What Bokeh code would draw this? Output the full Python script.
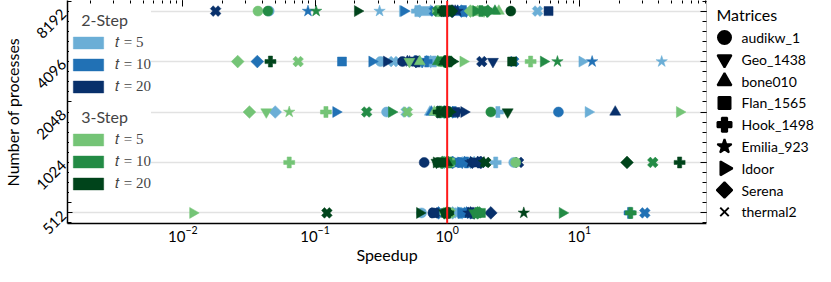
import math
from bokeh.plotting import figure
from bokeh.layouts import row
from bokeh.models import (Legend, LegendItem, LinearAxis, LogAxis, FixedTicker, LogTicker,
                          Span, ColumnDataSource, Range1d)
from bokeh.core.properties import value
from bokeh.embed import file_html
from bokeh.resources import INLINE

# ---------------- data ----------------
matrices = ["audikw_1", "Geo_1438", "bone010", "Flan_1565", "Hook_1498",
            "Emilia_923", "Idoor", "Serena", "thermal2"]
processes = ["512", "1024", "2048", "4096", "8192"]
t_labels = ["5", "10", "20"]

# speedup[process][matrix]
two_step_t5 = [
    [0.64, 1.3, 1.2, 1.35, 1.25, 1.4, 1.3, 1.1, 1.2],
    [3.19, 1.5, 1.6, 1.4, 2.33, 1.3, 1.17, 0.95, 1.45],
    [0.348, 0.9, 0.74, 0.95, 2.42, 1.1, 11.7, 0.050, 0.49],
    [0.313, 0.637, 0.7, 0.76, 0.8, 42.0, 10.5, 0.75, 0.393],
    [0.045, 0.62, 0.75, 0.7, 0.59, 0.308, 0.46, 0.62, 4.83],
]
two_step_t10 = [
    [1.45, 1.5, 1.4, 1.3, 24.0, 1.35, 1.28, 0.86, 31.3],
    [1.25, 1.3, 1.35, 1.2, 1.4, 1.5, 1.27, 1.1, 1.8],
    [6.95, 1.1, 0.76, 1.07, 1.13, 1.0, 0.144, 0.95, 1.05],
    [0.6, 0.65, 0.565, 0.16, 0.7, 12.5, 0.27, 0.0366, 3.19],
    [1.3, 1.4, 1.2, 1.25, 1.35, 0.0885, 0.47, 1.28, 0.8],
]
two_step_t20 = [
    [0.78, 1.6, 1.5, 0.8, 1.55, 1.45, 1.5, 2.14, 0.8],
    [0.67, 1.55, 1.7, 1.6, 1.75, 1.5, 1.6, 1.8, 3.47],
    [0.9, 1.2, 18.7, 1.15, 1.0, 1.05, 1.34, 0.85, 0.95],
    [0.459, 2.22, 0.5, 0.55, 0.6, 0.52, 0.348, 0.58, 1.83],
    [1.05, 1.1, 1.15, 5.85, 1.0, 1.2, 0.95, 1.1, 0.0177],
]
three_step_t5 = [
    [1.0, 0.98, 1.0, 1.02, 0.97, 1.0, 0.0119, 1.0, 1.05],
    [3.3, 1.0, 0.95, 1.05, 0.0638, 1.0, 0.0022, 1.0, 1.02],
    [0.85, 0.0428, 0.8, 0.9, 0.121, 0.0638, 57.4, 0.0319, 0.5],
    [0.9, 0.518, 0.62, 0.9, 4.28, 0.95, 1.32, 0.026, 0.0745],
    [0.037, 1.9, 2.46, 1.6, 0.85, 1.7, 1.65, 1.5, 0.9],
]
three_step_t10 = [
    [1.7, 1.6, 1.75, 1.8, 24.5, 1.65, 7.45, 1.7, 1.71],
    [1.0, 0.9, 1.02, 0.95, 1.05, 0.98, 0.95, 0.92, 36.0],
    [2.14, 0.95, 0.9, 1.0, 0.92, 1.02, 0.38, 0.88, 0.246],
    [1.0, 0.95, 0.85, 0.92, 1.05, 6.83, 5.36, 0.97, 1.02],
    [0.044, 2.0, 2.3, 1.9, 1.8, 0.102, 1.65, 2.03, 0.85],
]
three_step_t20 = [
    [1.0, 0.95, 1.0, 0.98, 1.02, 3.8, 0.62, 1.0, 0.123],
    [0.85, 0.83, 1.0, 0.9, 57.4, 1.9, 0.83, 22.96, 1.96],
    [1.0, 2.87, 0.95, 0.98, 0.86, 1.02, 1.05, 0.98, 1.0],
    [1.05, 1.0, 0.95, 3.1, 0.046, 1.0, 1.1, 0.98, 1.0],
    [3.03, 1.0, 1.05, 0.95, 0.93, 1.0, 0.21, 1.08, 0.98],
]

# ---------------- styles ----------------
blues = ["#6baed6", "#2171b5", "#08306b"]
greens = ["#74c476", "#238b45", "#00441b"]
marker_types = ["circle", "inverted_triangle", "triangle", "square", "plus",
                "star", "triangle", "square", "plus"]
marker_angles = [0, 0, 0, 0, 0, 0, -math.pi / 2, math.pi / 4, math.pi / 4]
marker_sizes = [10, 11, 11, 9, 11, 12, 11, 9, 11]
legend_markers = ["circle", "inverted_triangle", "triangle", "square", "plus",
                  "star", "triangle", "square", "x"]
legend_angles = [0, 0, 0, 0, 0, 0, -math.pi / 2, math.pi / 4, 0]
legend_sizes = [13, 14, 14, 12, 14, 15, 14, 11, 12]

FONT = "Lato"

p = figure(width=709, height=266, x_axis_type="log",
           x_range=Range1d(1.34e-3, 91.7), y_range=Range1d(-0.21, 4.21),
           output_backend="svg", toolbar_location=None,
           min_border_left=65, min_border_right=3, min_border_top=0,
           min_border_bottom=41)
p.outline_line_color = None
p.xgrid.visible = False

yticker = FixedTicker(ticks=list(range(len(processes))),
                      minor_ticks=[k * 0.2 for k in range(-1, 22)])
p.yaxis.ticker = yticker
p.ygrid.ticker = yticker
p.ygrid.grid_line_color = "#e2e2e2"
p.ygrid.grid_line_width = 1.5
p.yaxis.major_label_overrides = {i: s for i, s in enumerate(processes)}
p.yaxis.major_label_orientation = math.pi / 4
p.yaxis.axis_label = "Number of processes"
p.yaxis.major_tick_in = 5
p.yaxis.major_tick_out = 0
p.yaxis.minor_tick_in = 4
p.yaxis.minor_tick_out = 0
p.yaxis.axis_line_width = 1.5
p.yaxis.major_label_standoff = 4
p.yaxis.axis_label_standoff = 6

xticker = LogTicker(num_minor_ticks=10)
p.xaxis.ticker = xticker
p.xaxis.axis_label = "Speedup"
p.xaxis.major_tick_in = 0
p.xaxis.major_tick_out = 0
p.xaxis.minor_tick_in = 0
p.xaxis.minor_tick_out = 0
p.xaxis.axis_line_width = 1.5
p.xaxis.major_label_standoff = 2
p.xaxis.axis_label_standoff = 0

for ax in (p.xaxis[0], p.yaxis[0]):
    ax.major_label_text_font = FONT
    ax.major_label_text_font_size = "15px"
    ax.major_label_text_color = "black"
    ax.axis_label_text_font = FONT
    ax.axis_label_text_font_size = "16px"
    ax.axis_label_text_font_style = "normal"
    ax.axis_label_text_color = "black"

top_axis = LogAxis(ticker=xticker, major_label_text_font_size="1px",
                   major_label_text_color=None,
                   major_label_standoff=0, major_tick_in=6, major_tick_out=0,
                   minor_tick_in=3, minor_tick_out=0, axis_line_color=None)
p.add_layout(top_axis, "above")
right_axis = LinearAxis(ticker=yticker, major_label_text_font_size="1px",
                        major_label_text_color=None,
                        major_label_standoff=0, major_tick_in=6, major_tick_out=0,
                        minor_tick_in=4, minor_tick_out=0, axis_line_color="#bbbbbb")
p.add_layout(right_axis, "right")

# ---------------- points ----------------
series = [(two_step_t5, blues[0]), (two_step_t10, blues[1]), (two_step_t20, blues[2]),
          (three_step_t5, greens[0]), (three_step_t10, greens[1]), (three_step_t20, greens[2])]
for vals, col in series:
    xs, ys, mk, an, sz = [], [], [], [], []
    for i, rowvals in enumerate(vals):
        for j, v in enumerate(rowvals):
            xs.append(v)
            ys.append(i)
            mk.append(marker_types[j])
            an.append(marker_angles[j])
            sz.append(marker_sizes[j])
    src = ColumnDataSource(dict(x=xs, y=ys, marker=mk, angle=an, size=sz))
    p.scatter(x="x", y="y", marker="marker", angle="angle", size="size",
              source=src, fill_color=col, line_color=col, line_width=0.5)

p.add_layout(Span(location=1, dimension="height", line_color="#ff1a1a", line_width=2))

# ---------------- method legends ----------------
nan = float("nan")


def method_legend(title, colors, location):
    items = []
    for t, c in zip(t_labels, colors):
        r = p.quad(left=[nan], right=[nan], top=[nan], bottom=[nan],
                   fill_color=c, line_color=c, line_alpha=0.4)
        items.append(LegendItem(label="\U0001D461 = " + t, renderers=[r]))
    lg = Legend(items=items, title=title, location=location,
                glyph_width=38, glyph_height=15, label_height=20, spacing=2,
                padding=15, margin=0, label_standoff=8, title_standoff=3,
                border_line_color=None, background_fill_color="white",
                background_fill_alpha=1.0,
                label_text_font="Liberation Serif", label_text_font_size="15px",
                title_text_font=FONT, title_text_font_size="16px",
                title_text_font_style="normal")
    p.add_layout(lg, "center")


method_legend("\u00a0\u00a0\u00a02-Step", blues, (2, 127))
method_legend("\u00a0\u00a0\u00a03-Step", greens, (2, 30))

# ---------------- matrices legend (side panel) ----------------
q = figure(width=106, height=266, x_range=Range1d(0, 106),
           y_range=Range1d(10.505, -1.697), output_backend="svg",
           toolbar_location=None, min_border=0,
           x_axis_location=None, y_axis_location=None)
q.grid.visible = False
q.outline_line_color = None
idx = list(range(len(matrices)))
q.scatter(x=[15] * len(matrices), y=idx, marker=legend_markers, angle=legend_angles,
          size=legend_sizes, fill_color="black", line_color="black", line_width=2)
q.text(x=[32] * len(matrices), y=idx, text=matrices, text_font=value(FONT),
       text_font_size="14px", text_baseline="middle", text_color="black")
q.text(x=[7], y=[-1.055], text=["Matrices"], text_font=value(FONT),
       text_font_size="16px", text_baseline="middle", text_color="black")

for fig in (p, q):
    try:
        fig.frame_align = False
    except Exception:
        pass

layout = row(p, q)
open("out.html", "w").write(file_html(layout, INLINE))
